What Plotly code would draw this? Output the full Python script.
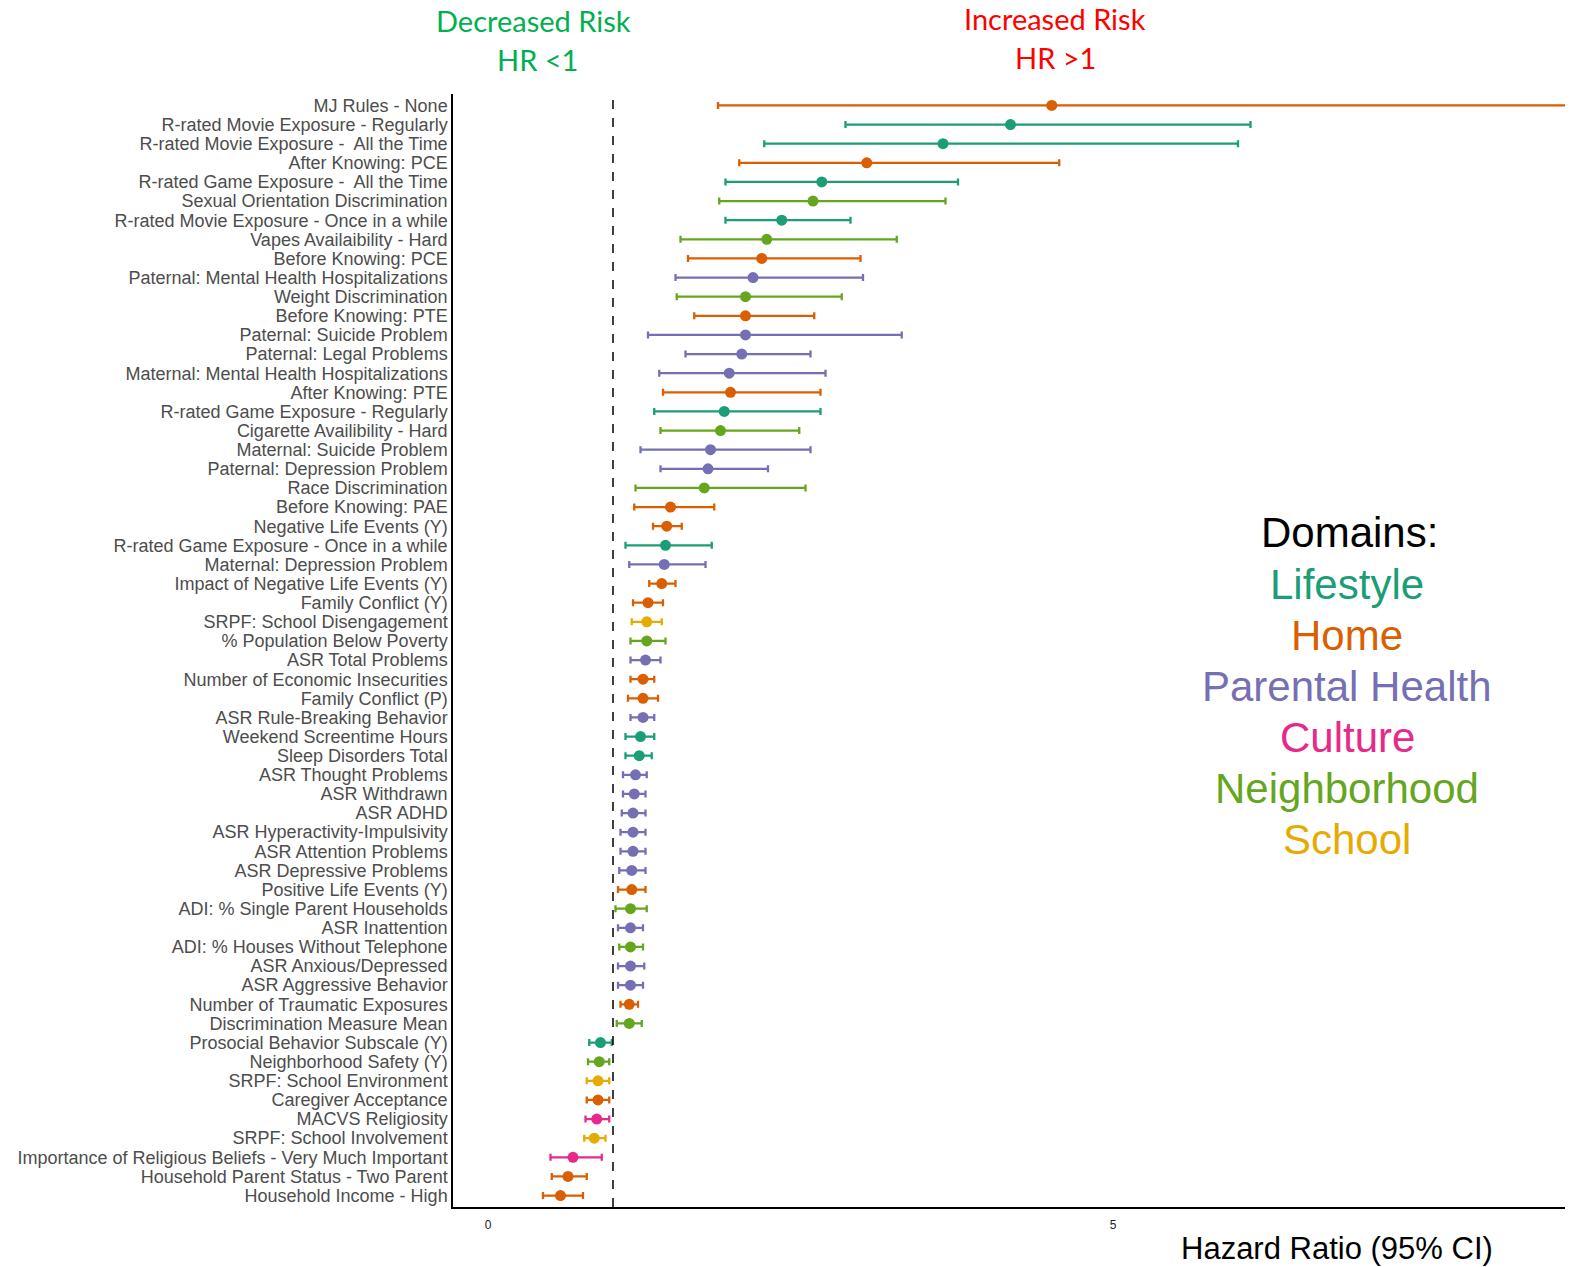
import plotly.graph_objects as go

# Predictors, top to bottom
labels = [
    "MJ Rules - None",
    "R-rated Movie Exposure - Regularly",
    "R-rated Movie Exposure -  All the Time",
    "After Knowing: PCE",
    "R-rated Game Exposure -  All the Time",
    "Sexual Orientation Discrimination",
    "R-rated Movie Exposure - Once in a while",
    "Vapes Availaibility - Hard",
    "Before Knowing: PCE",
    "Paternal: Mental Health Hospitalizations",
    "Weight Discrimination",
    "Before Knowing: PTE",
    "Paternal: Suicide Problem",
    "Paternal: Legal Problems",
    "Maternal: Mental Health Hospitalizations",
    "After Knowing: PTE",
    "R-rated Game Exposure - Regularly",
    "Cigarette Availibility - Hard",
    "Maternal: Suicide Problem",
    "Paternal: Depression Problem",
    "Race Discrimination",
    "Before Knowing: PAE",
    "Negative Life Events (Y)",
    "R-rated Game Exposure - Once in a while",
    "Maternal: Depression Problem",
    "Impact of Negative Life Events (Y)",
    "Family Conflict (Y)",
    "SRPF: School Disengagement",
    "% Population Below Poverty",
    "ASR Total Problems",
    "Number of Economic Insecurities",
    "Family Conflict (P)",
    "ASR Rule-Breaking Behavior",
    "Weekend Screentime Hours",
    "Sleep Disorders Total",
    "ASR Thought Problems",
    "ASR Withdrawn",
    "ASR ADHD",
    "ASR Hyperactivity-Impulsivity",
    "ASR Attention Problems",
    "ASR Depressive Problems",
    "Positive Life Events (Y)",
    "ADI: % Single Parent Households",
    "ASR Inattention",
    "ADI: % Houses Without Telephone",
    "ASR Anxious/Depressed",
    "ASR Aggressive Behavior",
    "Number of Traumatic Exposures",
    "Discrimination Measure Mean",
    "Prosocial Behavior Subscale (Y)",
    "Neighborhood Safety (Y)",
    "SRPF: School Environment",
    "Caregiver Acceptance",
    "MACVS Religiosity",
    "SRPF: School Involvement",
    "Importance of Religious Beliefs - Very Much Important",
    "Household Parent Status - Two Parent",
    "Household Income - High",
]

hr = [4.51, 4.18, 3.64, 3.03, 2.67, 2.60, 2.35, 2.23, 2.19, 2.12,
      2.06, 2.06, 2.06, 2.03, 1.93, 1.94, 1.89, 1.86, 1.78, 1.76,
      1.73, 1.46, 1.43, 1.42, 1.41, 1.39, 1.28, 1.27, 1.27, 1.26,
      1.24, 1.24, 1.24, 1.22, 1.21, 1.18, 1.17, 1.16, 1.16, 1.16,
      1.15, 1.15, 1.14, 1.14, 1.14, 1.14, 1.14, 1.13, 1.13, 0.90,
      0.89, 0.88, 0.88, 0.87, 0.85, 0.68, 0.64, 0.58]

ci_low = [1.84, 2.86, 2.21, 2.01, 1.90, 1.85, 1.90, 1.54, 1.60, 1.50,
          1.51, 1.65, 1.28, 1.58, 1.37, 1.40, 1.33, 1.38, 1.22, 1.38,
          1.18, 1.17, 1.32, 1.10, 1.13, 1.29, 1.16, 1.15, 1.14, 1.14,
          1.14, 1.12, 1.14, 1.10, 1.10, 1.08, 1.08, 1.07, 1.06, 1.06,
          1.05, 1.04, 1.02, 1.04, 1.05, 1.04, 1.04, 1.06, 1.03, 0.81,
          0.80, 0.79, 0.79, 0.78, 0.77, 0.50, 0.51, 0.44]

ci_high = [9.60, 6.10, 6.00, 4.57, 3.76, 3.66, 2.90, 3.27, 2.98, 3.00,
           2.83, 2.61, 3.31, 2.58, 2.70, 2.66, 2.66, 2.49, 2.58, 2.24,
           2.54, 1.81, 1.55, 1.79, 1.74, 1.50, 1.40, 1.39, 1.42, 1.38,
           1.33, 1.36, 1.33, 1.33, 1.31, 1.27, 1.26, 1.26, 1.26, 1.26,
           1.26, 1.26, 1.27, 1.24, 1.24, 1.25, 1.24, 1.20, 1.23, 0.99,
           0.97, 0.97, 0.97, 0.97, 0.94, 0.91, 0.79, 0.76]

domain = [
    "Home", "Lifestyle", "Lifestyle", "Home", "Lifestyle", "Neighborhood",
    "Lifestyle", "Neighborhood", "Home", "Parental Health", "Neighborhood",
    "Home", "Parental Health", "Parental Health", "Parental Health", "Home",
    "Lifestyle", "Neighborhood", "Parental Health", "Parental Health",
    "Neighborhood", "Home", "Home", "Lifestyle", "Parental Health", "Home",
    "Home", "School", "Neighborhood", "Parental Health", "Home", "Home",
    "Parental Health", "Lifestyle", "Lifestyle", "Parental Health",
    "Parental Health", "Parental Health", "Parental Health", "Parental Health",
    "Parental Health", "Home", "Neighborhood", "Parental Health",
    "Neighborhood", "Parental Health", "Parental Health", "Home",
    "Neighborhood", "Lifestyle", "Neighborhood", "School", "Home", "Culture",
    "School", "Culture", "Home", "Home",
]

domain_names = ["Lifestyle", "Home", "Parental Health", "Culture", "Neighborhood", "School"]
domain_colors = ["#1B9E77", "#D95F02", "#7570B3", "#E7298A", "#66A61E", "#E6AB02"]

x_ticks = [0, 5]

# Pixel layout of the page
W, H = 1570, 1267
PL, PR, PT, PB = 453, 1565, 93.5, 1207


def px_x(px):
    return (px - PL) / (PR - PL)


def px_y(py):
    return (PB - py) / (PB - PT)


rows = list(range(1, len(labels) + 1))
color_of = dict(zip(domain_names, domain_colors))

fig = go.Figure()
for name in domain_names:
    idx = [i for i, d in enumerate(domain) if d == name]
    if not idx:
        continue
    c = color_of[name]
    fig.add_trace(go.Scatter(
        x=[hr[i] for i in idx],
        y=[rows[i] for i in idx],
        mode="markers",
        name=name,
        marker=dict(color=c, size=11, line=dict(width=0)),
        error_x=dict(
            type="data", symmetric=False,
            array=[ci_high[i] - hr[i] for i in idx],
            arrayminus=[hr[i] - ci_low[i] for i in idx],
            color=c, thickness=2.3, width=3.5,
        ),
        showlegend=False,
        cliponaxis=True,
    ))

# reference line at HR = 1
fig.add_shape(type="line", xref="x", yref="paper", x0=1, x1=1, y0=0, y1=1,
              line=dict(color="black", width=1.5, dash="dash"))

annotations = []
# Risk direction headers
for txt, x, y, col in [
    ("Decreased Risk", 533, 20, "#00B050"),
    ("HR <1", 537, 59, "#00B050"),
    ("Increased Risk", 1055, 18, "#FF0000"),
    ("HR >1", 1055, 57, "#FF0000"),
]:
    annotations.append(dict(text=txt, x=px_x(x), y=px_y(y), xref="paper", yref="paper",
                            xanchor="center", yanchor="middle", showarrow=False,
                            font=dict(family="Lato", size=29, color=col)))

# Domain key
annotations.append(dict(text="Domains:", x=px_x(1349), y=px_y(532), xref="paper", yref="paper",
                        xanchor="center", yanchor="middle", showarrow=False,
                        font=dict(family="Arial", size=42, color="black")))
for k, (name, c) in enumerate(zip(domain_names, domain_colors)):
    annotations.append(dict(text=name, x=px_x(1347), y=px_y(584 + 51 * k), xref="paper", yref="paper",
                            xanchor="center", yanchor="middle", showarrow=False,
                            font=dict(family="Arial", size=42, color=c)))

# Axis title
annotations.append(dict(text="Hazard Ratio (95% CI)", x=px_x(1337), y=px_y(1249), xref="paper", yref="paper",
                        xanchor="center", yanchor="middle", showarrow=False,
                        font=dict(family="Arial", size=31, color="black")))

fig.update_layout(
    width=W, height=H,
    margin=dict(l=PL, r=W - PR, t=PT, b=H - PB, pad=0),
    paper_bgcolor="white", plot_bgcolor="white",
    annotations=annotations,
    font=dict(family="Arial"),
)
fig.update_xaxes(
    range=[-0.28, 8.616], tickvals=x_ticks, ticktext=[str(t) for t in x_ticks],
    showgrid=False, zeroline=False, showline=True, linecolor="black", linewidth=1.5,
    ticks="outside", ticklen=6, tickcolor="rgba(0,0,0,0)",
    tickfont=dict(family="Arial", size=12, color="#222222"),
)
fig.update_yaxes(
    range=[len(labels) + 0.6, 0.4], tickvals=rows, ticktext=labels,
    showgrid=False, zeroline=False, showline=True, linecolor="black", linewidth=1.5,
    ticks="", tickfont=dict(family="Arial", size=18, color="#4D4D4D"),
)

fig.write_html("out.html")
